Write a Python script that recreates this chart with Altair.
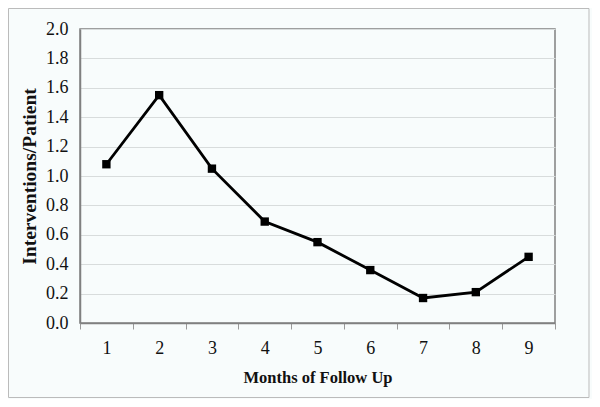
import altair as alt
import pandas as pd

months = ["1", "2", "3", "4", "5", "6", "7", "8", "9"]
interventions = [1.08, 1.55, 1.05, 0.69, 0.55, 0.36, 0.17, 0.21, 0.45]

df = pd.DataFrame({"month": months, "value": interventions})

FONT = "Liberation Serif"
BG = "#f8fcfc"

base = alt.Chart(df)

x = alt.X("month:O", sort=months, title="Months of Follow Up",
          scale=alt.Scale(paddingInner=0, paddingOuter=0, align=0.5),
          axis=alt.Axis(labelAngle=0, tickBand="extent", tickSize=6, tickColor="#9a9a9a",
                        domainColor="#808080", domainWidth=1.5, labelFont=FONT, labelFontSize=18,
                        labelColor="#111", labelPadding=10, titleFont=FONT, titleFontSize=16.5,
                        titleFontWeight="bold", titleColor="#111", titlePadding=12, grid=False))
y = alt.Y("value:Q", title="Interventions/Patient",
          scale=alt.Scale(domain=[0, 2.0], nice=False),
          axis=alt.Axis(values=[0, 0.2, 0.4, 0.6, 0.8, 1.0, 1.2, 1.4, 1.6, 1.8, 2.0], format=".1f",
                        ticks=False, domainColor="#808080", domainWidth=1.5, gridColor="#d8dcdc",
                        gridWidth=1, labelFont=FONT, labelFontSize=18, labelColor="#111",
                        labelPadding=12, titleFont=FONT, titleFontSize=19.5, titleFontWeight="bold",
                        titleColor="#111", titlePadding=6))

line = base.mark_line(color="black", strokeWidth=2.8).encode(x=x, y=y)
pts = base.mark_square(color="black", size=70, opacity=1).encode(x=x, y=y)

frame = alt.Chart(pd.DataFrame({"a": [0]})).mark_rect(
    fill=None, stroke="#bbbbbb", strokeWidth=1, clip=False
).encode(x=alt.value(-71.5), x2=alt.value(509), y=alt.value(-20.5), y2=alt.value(368.5))

chart = alt.layer(frame, line, pts).properties(
    width=475, height=294,
    autosize=alt.AutoSizeParams(type="none"),
    padding={"left": 72, "top": 21, "right": 37, "bottom": 76},
    background=BG,
).configure_view(stroke="#808080", strokeWidth=1.5)

chart.save("out.html", embed_options={"renderer": "svg", "actions": False})
